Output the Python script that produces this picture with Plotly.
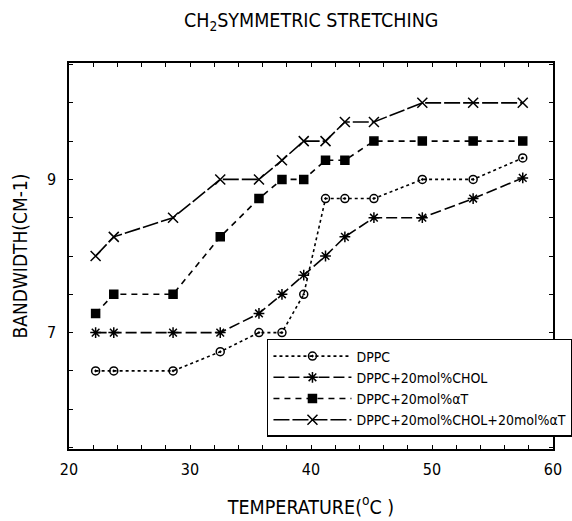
import plotly.graph_objects as go

temperature = [22.2, 23.7, 28.6, 32.5, 35.7, 37.6, 39.4, 41.2, 42.8, 45.2, 49.2, 53.4, 57.5]
dppc = [6.5, 6.5, 6.5, 6.75, 7.0, 7.0, 7.5, 8.75, 8.75, 8.75, 9.0, 9.0, 9.28]
dppc_chol = [7.0, 7.0, 7.0, 7.0, 7.25, 7.5, 7.75, 8.0, 8.25, 8.5, 8.5, 8.75, 9.02]
dppc_at = [7.25, 7.5, 7.5, 8.25, 8.75, 9.0, 9.0, 9.25, 9.25, 9.5, 9.5, 9.5, 9.5]
dppc_chol_at = [8.0, 8.25, 8.5, 9.0, 9.0, 9.25, 9.5, 9.5, 9.75, 9.75, 10.0, 10.0, 10.0]

names = ["DPPC", "DPPC+20mol%CHOL", "DPPC+20mol%αT", "DPPC+20mol%CHOL+20mol%αT"]

x_tickvals = list(range(20, 61, 2))
x_ticktext = [str(v) if v % 10 == 0 else "" for v in x_tickvals]
y_tickvals = [5.5, 6.0, 6.5, 7.0, 7.5, 8.0, 8.5, 9.0, 9.5, 10.0, 10.5]
y_ticktext = ["", "", "", "7", "", "", "", "9", "", "", ""]

FONT = "DejaVu Sans Condensed, Liberation Sans Narrow, Liberation Sans, Arial, sans-serif"

fig = go.Figure()
styles = [
    (dppc, "circle-open-dot", "3px,3px", 8),
    (dppc_chol, "asterisk-open", "11px,4px", 9),
    (dppc_at, "square", "6px,5px", 8),
    (dppc_chol_at, "x-thin-open", "16px,3px", 10),
]
for name, (ys, sym, dash, size) in zip(names, styles):
    fig.add_trace(go.Scatter(
        x=temperature, y=ys, name=name, mode="lines+markers",
        line=dict(color="black", width=1.6, dash=dash),
        marker=dict(symbol=sym, size=size, color="black",
                    line=dict(color="black", width=1.5)),
    ))

fig.update_layout(
    width=572, height=521,
    margin=dict(l=69, r=19, t=63, b=72, autoexpand=False),
    paper_bgcolor="white", plot_bgcolor="white",
    font=dict(family=FONT, size=15, color="black"),
    title=dict(text="CH<sub>2</sub>SYMMETRIC STRETCHING", x=0.544, xanchor="center",
               y=0.962, yanchor="middle", font=dict(family=FONT, size=19.5, color="black")),
    legend=dict(x=0.409, y=0.285, xanchor="left", yanchor="top",
                bgcolor="white", bordercolor="black", borderwidth=1.5,
                font=dict(family=FONT, size=14, color="black"),
                tracegroupgap=0, itemwidth=78),
    showlegend=True,
)
fig.update_xaxes(
    range=[20, 60], tickmode="array", tickvals=x_tickvals, ticktext=x_ticktext,
    ticks="inside", ticklen=4, tickwidth=1, tickcolor="black",
    showline=True, linecolor="black", linewidth=1.5, mirror="ticks",
    showgrid=False, zeroline=False, ticklabelstandoff=5, automargin=False,
    title=dict(text="TEMPERATURE(<sup>o</sup>C )", standoff=22,
               font=dict(family=FONT, size=19.5)),
    tickfont=dict(family=FONT, size=16),
)
fig.update_yaxes(
    range=[5.48, 10.52], tickmode="array", tickvals=y_tickvals, ticktext=y_ticktext,
    ticks="inside", ticklen=4, tickwidth=1, tickcolor="black",
    showline=True, linecolor="black", linewidth=1.5, mirror="ticks",
    showgrid=False, zeroline=False, ticklabelstandoff=8, automargin=False,
    title=dict(text="BANDWIDTH(CM-1)", standoff=14, font=dict(family=FONT, size=19)),
    tickfont=dict(family=FONT, size=16),
)

fig.write_html("out.html")
